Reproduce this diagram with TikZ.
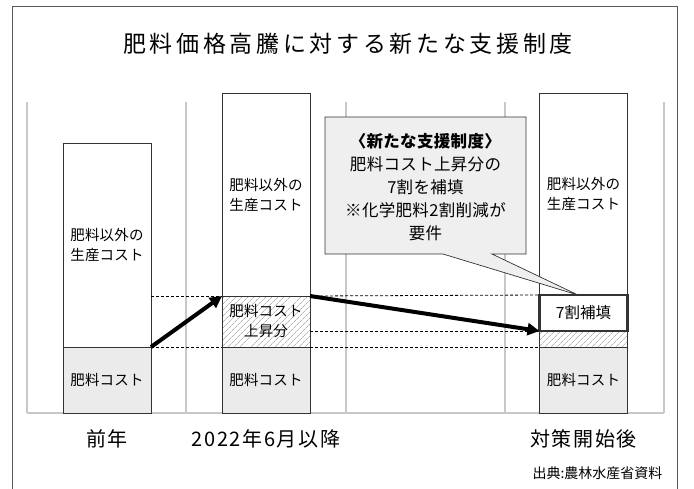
\documentclass[tikz,border=0pt]{standalone}
\usepackage{fontspec}
\setmainfont{Noto Sans CJK JP}
\usetikzlibrary{arrows.meta,patterns.meta}
\definecolor{gridgray}{HTML}{C8C8C8}
\definecolor{framegray}{HTML}{595959}
\definecolor{costgray}{HTML}{EBEBEB}
\definecolor{notegray}{HTML}{EFEFEF}
\definecolor{hatchgray}{HTML}{B4B4B4}
\begin{document}
\begin{tikzpicture}[x=1pt,y=-1pt,
  bar/.style={draw=black!80,line width=0.8pt,minimum width=88pt,inner sep=0pt,outer sep=0pt,align=center,
    font=\fontsize{14.5}{20}\selectfont\addfontfeature{LetterSpace=1}},
  cost/.style={bar,fill=costgray},
  rise/.style={bar,preaction={fill=white},pattern={Lines[angle=45,distance=4pt,line width=0.7pt]},pattern color=hatchgray},
  bigarrow/.style={line width=4pt,-{Triangle[length=12pt,width=12pt]}},
  guide/.style={dash pattern=on 3pt off 2pt,line width=0.8pt},
  period/.style={font=\fontsize{20}{22}\selectfont\addfontfeature{LetterSpace=8}}]
\useasboundingbox (0,0) rectangle (694,488);
% frame and title
\draw[framegray,line width=1.5pt] (12.5,495) -- (12.5,6.5) -- (677.5,6.5) -- (677.5,495);
\node[font=\fontsize{23}{26}\selectfont\addfontfeature{LetterSpace=16}] (title) at (348,44) {肥料価格高騰に対する新たな支援制度};
% background grid
\foreach \x in {27,186,346,505,664}
  \draw[gridgray,line width=1.5pt] (\x,102) -- (\x,413);
\draw[gridgray,line width=1.5pt] (27,413) -- (664,413);
% bars
\node[bar,fill=white,minimum height=204pt] (b1white) at (107,245) {肥料以外の\\生産コスト};
\node[cost,minimum height=66pt] (b1cost) at (107,380) {肥料コスト};
\node[bar,fill=white,minimum height=203pt] (b2white) at (266,194.5) {肥料以外の\\生産コスト};
\node[rise,minimum height=51pt] (b2rise) at (266,321.5) {肥料コスト\\上昇分};
\node[cost,minimum height=66pt] (b2cost) at (266,380) {肥料コスト};
\node[bar,fill=white,minimum height=202pt] (b3white) at (583.5,194) {肥料以外の\\生産コスト};
\node[rise,minimum height=16pt] (b3rise) at (583.5,339) {};
\node[cost,minimum height=66pt] (b3cost) at (583.5,380) {肥料コスト};
\node[bar,fill=white,line width=2.5pt,minimum height=36pt,font=\fontsize{15.5}{18}\selectfont] (hoten) at (583.5,313) {7割補填};
% guide lines
\draw[guide] (b1white.south east |- b2rise.north) -- (b2rise.north west);
\draw[guide] (b1cost.north east) -- (b2cost.north west);
\draw[guide] (b2white.south east) -- (hoten.north west);
\draw[guide] (b2rise.east |- hoten.south) -- (hoten.south west);
\draw[guide] (b2cost.north east) -- (b3cost.north west);
% arrows
\draw[bigarrow] (b1cost.north east) -- (b2rise.north west);
\draw[bigarrow] (b2white.south east) -- (hoten.south west);
% callout
\draw[black!80,line width=0.7pt,fill=notegray] (325,117) -- (526,117) -- (526,254) -- (492,254)
  -- ([xshift=-5.5pt]hoten.north) -- (443,254) -- (325,254) -- cycle;
\node[align=center,font=\fontsize{16.5}{23}\selectfont\addfontfeature{LetterSpace=2}] (note) at (425.5,187)
  {\textbf{〈新たな支援制度〉}\\肥料コスト上昇分の\\7割を補填\\※化学肥料2割削減が\\要件};
% periods
\node[period] (p1) at (107,439) {前年};
\node[period] (p2) at (266,439) {2022年6月以降};
\node[period] (p3) at (583.5,439) {対策開始後};
\node[anchor=east,font=\fontsize{14}{16}\selectfont] (source) at (666,473) {出典:農林水産省資料};
\end{tikzpicture}
\end{document}
